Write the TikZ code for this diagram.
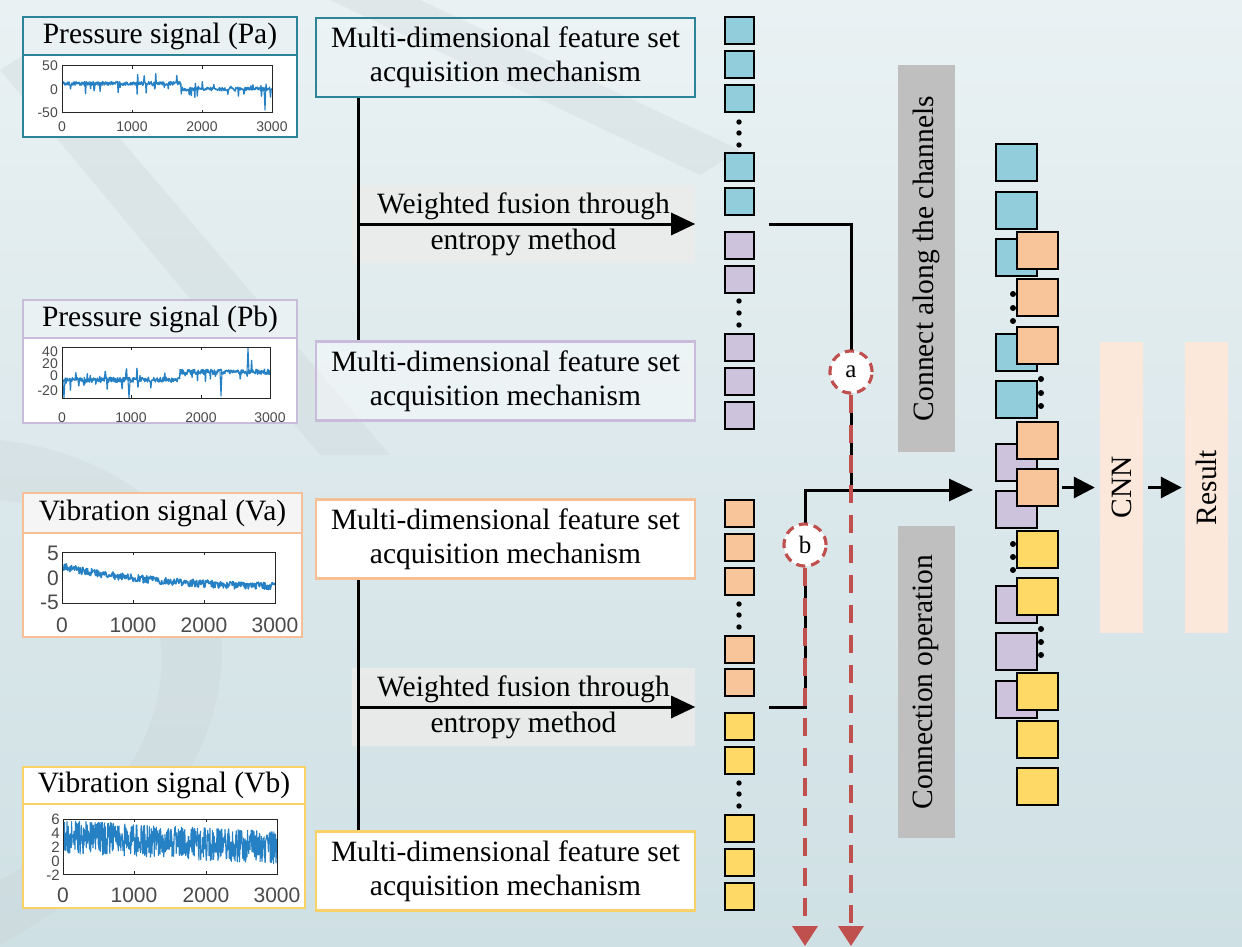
\documentclass[tikz,border=0pt]{standalone}
\usepackage{fontspec}
\setmainfont{Liberation Serif}
\newfontfamily\axisfont{Liberation Sans}
\usetikzlibrary{arrows.meta,calc}

\definecolor{bgtop}{HTML}{E9F1F3}
\definecolor{bgbot}{HTML}{CFE0E4}
\definecolor{wmgray}{HTML}{C9D2D5}
\definecolor{cteal}{HTML}{92CDDB}
\definecolor{clav}{HTML}{CEC3DC}
\definecolor{cora}{HTML}{F8C49A}
\definecolor{cyel}{HTML}{FFD966}
\definecolor{bteal}{HTML}{2E8396}
\definecolor{blav}{HTML}{C8BCDA}
\definecolor{bora}{HTML}{F6BF95}
\definecolor{byel}{HTML}{F8D168}
\definecolor{gbox}{HTML}{BFBFBF}
\definecolor{peach}{HTML}{FBE8DB}
\definecolor{redd}{HTML}{C0504D}
\definecolor{sigblue}{HTML}{2580C4}
\definecolor{ticktext}{HTML}{4A4A4A}

\newcommand\mainsz{\fontsize{29.5}{34}\selectfont}
\newcommand\cirsz{\fontsize{25}{28}\selectfont}

\begin{document}
\begin{tikzpicture}[x=1pt,y=-1pt,
  conn/.style={line width=3pt, draw=black},
  tip/.style={-{Triangle[length=24pt,width=22pt]}},
  smalltip/.style={-{Triangle[length=21pt,width=21pt]}},
  reddash/.style={line width=4pt, draw=redd, dash pattern=on 18pt off 12pt,
    -{Triangle[length=20pt,width=25pt]}},
  circ/.style={circle, fill=white, draw=redd, line width=3pt,
    dash pattern=on 9pt off 6pt, minimum size=42pt, inner sep=0pt, font=\cirsz},
  featbox/.style={draw, line width=2.5pt, minimum width=379pt, minimum height=79pt,
    align=center, font=\mainsz, inner sep=0pt},
  ttl/.style={draw, line width=2pt, font=\mainsz, inner sep=0pt},
  panel/.style={draw, line width=2pt, fill=white, inner sep=0pt},
  fusebox/.style={fill=white!92!black, fill opacity=0.9, text opacity=1,
    minimum width=343pt, minimum height=78pt, align=center, font=\mainsz, inner sep=0pt},
  sq/.style={draw=black, line width=2pt, minimum width=29pt, minimum height=27pt, inner sep=0pt},
  bsq/.style={draw=black, line width=2.2pt, minimum width=41pt, minimum height=37pt, inner sep=0pt},
  vbar/.style={rotate=90, inner sep=0pt, font=\mainsz},
  sig/.style={draw=sigblue, line width=1.1pt, line join=round},
  frame/.style={draw=black!85, line width=1pt},
  tk/.style={font=\axisfont\fontsize{14}{14}\selectfont, text=ticktext, inner sep=0pt},
  tkb/.style={font=\axisfont\fontsize{21}{21}\selectfont, text=ticktext, inner sep=0pt},
  tks/.style={font=\axisfont\fontsize{15}{15}\selectfont, text=ticktext, inner sep=0pt},
  wm/.style={fill=wmgray, fill opacity=0.3}
]
\useasboundingbox (0,0) rectangle (1242,947);
\shade[top color=bgtop, bottom color=bgbot] (0,0) rectangle (1242,947);

% faint background logo
\fill[wm] (0,70) -- (40,45) -- (390,455) -- (320,455) -- cycle;
\fill[wm] (330,0) -- (420,0) -- (740,150) -- (700,175) -- cycle;
\fill[wm] (0,440) .. controls (260,470) and (330,760) .. (0,945) -- (0,880)
  .. controls (230,760) and (200,520) .. (0,500) -- cycle;

% ---------------- signal panels ----------------
% Pa
\node[panel, draw=bteal, minimum width=274pt, minimum height=82pt] (pap) at (160,96) {};
\node[ttl, draw=bteal, fill=bgtop, minimum width=274pt, minimum height=38pt] (pat) at (160,36) {Pressure signal (Pa)};
\begin{scope}
  \clip (62,66) rectangle (272,113);
  \pgfmathsetseed{11}
  \draw[sig, line width=1.4pt] plot[domain=62:272, samples=420, variable=\t]
    (\t, {89.5 - 0.47*( ((\t<181) ? 13 : 1) + 4*rand + (rnd>0.88)*20*rand )});
  \draw[sig] (264,88) -- (265,110) -- (266,84) -- (267,90);
\end{scope}
\draw[frame] (62,66) rectangle (272,113);
\foreach \xx in {132,202} {\draw[frame] (\xx,66) -- (\xx,69); \draw[frame] (\xx,113) -- (\xx,110);}
\node[tk, anchor=east] at (58,66) {50};
\node[tk, anchor=east] at (58,90) {0};
\node[tk, anchor=east] at (58,113) {-50};
\foreach \xx/\lab in {62/0,132/1000,202/2000,272/3000} \node[tk] at (\xx,127) {\lab};

% Pb
\node[panel, draw=blav, minimum width=274pt, minimum height=85pt] (pbp) at (160,380.5) {};
\node[ttl, draw=blav, fill=bgtop, minimum width=274pt, minimum height=38pt] (pbt) at (160,319) {Pressure signal (Pb)};
\begin{scope}
  \clip (62,347) rectangle (270,398);
  \pgfmathsetseed{23}
  \draw[sig, line width=1.4pt] plot[domain=62:270, samples=420, variable=\t]
    (\t, {383.5 - 0.73*( ((\t<180) ? 5 : 16) + 3.5*rand + (rnd>0.88)*14*rand )});
  \draw[sig] (63,383) -- (64,398) -- (65,380);
  \draw[sig] (128,380) -- (129,398) -- (130,382);
  \draw[sig] (220,372) -- (221,396) -- (222,372);
  \draw[sig] (247,372) -- (248,348) -- (249,372);
\end{scope}
\draw[frame] (62,347) rectangle (270,398);
\foreach \xx in {131,201} {\draw[frame] (\xx,347) -- (\xx,350); \draw[frame] (\xx,398) -- (\xx,395);}
\node[tk, anchor=east] at (58,352) {40};
\node[tk, anchor=east] at (58,364) {20};
\node[tk, anchor=east] at (58,376) {0};
\node[tk, anchor=east] at (58,391) {-20};
\foreach \xx/\lab in {62/0,131/1000,201/2000,270/3000} \node[tk] at (\xx,418) {\lab};

% Va
\node[panel, draw=bora, minimum width=279pt, minimum height=104pt] (vap) at (162.5,585) {};
\node[ttl, draw=bora, fill=white!96!black, minimum width=279pt, minimum height=40pt] (vat) at (162.5,513) {Vibration signal (Va)};
\begin{scope}
  \clip (62,552) rectangle (275,603);
  \pgfmathsetseed{5}
  \draw[sig, line width=1.6pt] plot[domain=62:275, samples=360, variable=\t]
    (\t, {577.5 - 5.1*( 2.2 - 4.4*(1-exp(-(\t-62)/95)) + 0.75*rand )});
\end{scope}
\draw[frame] (62,552) rectangle (275,603);
\foreach \xx in {133,204} {\draw[frame] (\xx,552) -- (\xx,555); \draw[frame] (\xx,603) -- (\xx,600);}
\node[tkb, anchor=east] at (59,553) {5};
\node[tkb, anchor=east] at (59,578) {0};
\node[tkb, anchor=east] at (59,602) {-5};
\foreach \xx/\lab in {62/0,133/1000,204/2000,275/3000} \node[tkb] at (\xx,625) {\lab};

% Vb
\node[panel, draw=byel, minimum width=282pt, minimum height=104pt] (vbp) at (164,856) {};
\node[ttl, draw=byel, fill=white, minimum width=282pt, minimum height=37pt] (vbt) at (164,785.5) {Vibration signal (Vb)};
\begin{scope}
  \clip (63,819) rectangle (277,874);
  \pgfmathsetseed{17}
  \draw[sig, line width=1.1pt] plot[domain=63:277, samples=700, variable=\t]
    (\t, {860 - 6.875*( 3.4 - 1.6*(\t-63)/214 + 2.4*rand )});
\end{scope}
\draw[frame] (63,819) rectangle (277,874);
\foreach \xx in {134,206} {\draw[frame] (\xx,819) -- (\xx,822); \draw[frame] (\xx,874) -- (\xx,871);}
\node[tks, anchor=east] at (60,819) {6};
\node[tks, anchor=east] at (60,833) {4};
\node[tks, anchor=east] at (60,847) {2};
\node[tks, anchor=east] at (60,861) {0};
\node[tks, anchor=east] at (60,875) {-2};
\foreach \xx/\lab in {63/0,134/1000,206/2000,277/3000} \node[tkb] at (\xx,895) {\lab};

% ---------------- feature set boxes ----------------
\node[featbox, draw=bteal, fill=white, fill opacity=0.15, text opacity=1] (m1) at (505.5,57.5)
  {Multi-dimensional feature set\\acquisition mechanism};
\node[featbox, draw=blav, fill=white, fill opacity=0.45, text opacity=1] (m2) at (505.5,381)
  {Multi-dimensional feature set\\acquisition mechanism};
\node[featbox, draw=bora, fill=white] (m3) at (505.5,539)
  {Multi-dimensional feature set\\acquisition mechanism};
\node[featbox, draw=byel, fill=white] (m4) at (505.5,871)
  {Multi-dimensional feature set\\acquisition mechanism};

% weighted fusion (upper pair)
\node[fusebox] (f1) at (523.5,224) {Weighted fusion through\\[2pt]entropy method};
\draw[conn] ([xshift=44pt]m1.south west) -- ([xshift=44pt]m2.north west);
\draw[conn, tip] ([xshift=44pt]m1.south west |- f1.west) -- (f1.east);

% weighted fusion (lower pair)
\node[fusebox] (f2) at (523.5,707) {Weighted fusion through\\[2pt]entropy method};
\draw[conn] ([xshift=44pt]m3.south west) -- ([xshift=44pt]m4.north west);
\draw[conn, tip] ([xshift=44pt]m3.south west |- f2.west) -- (f2.east);

% ---------------- fused feature columns ----------------
\foreach \yy/\c in {31/cteal,65/cteal,99/cteal,167/cteal,201/cteal,
                    245/clav,279/clav,347/clav,381/clav,415/clav,
                    513/cora,547/cora,581/cora,649/cora,682/cora,
                    726/cyel,760/cyel,828/cyel,862/cyel,896/cyel}
  \node[sq, fill=\c] at (739,\yy) {};
\foreach \yy in {122,133,145, 301,313,325, 604,615,627, 783,794,806}
  \fill (739,\yy) circle (2.7pt);

% ---------------- connection paths ----------------
\coordinate (topout) at (769,224);
\coordinate (botout) at (769,707);
\node[circ] (ca) at (851,372) {a};
\node[circ] (cb) at (805,545) {b};
\coordinate (join) at (805,490);
\coordinate (stackin) at (973,490);
\coordinate (aend) at (851,946);
\coordinate (bend) at (805,946);

\draw[conn] (topout) -| (ca.north);
\draw[conn] (ca.south) -- (ca.south |- join);
\draw[conn] (botout) -| (cb.south);
\draw[conn, tip] (cb.north) |- (stackin);
\draw[reddash] (ca.south) -- (aend);
\draw[reddash] (cb.south) -- (bend);
\node[circ] at (ca) {a};
\node[circ] at (cb) {b};

% gray operation labels
\node[vbar, fill=gbox, minimum width=387pt, minimum height=57pt] (g1) at (926,258.5) {Connect along the channels};
\node[vbar, fill=gbox, minimum width=312pt, minimum height=57pt] (g2) at (926,682) {Connection operation};

% ---------------- concatenated stack ----------------
\foreach \yy/\c in {162.5/cteal,210.5/cteal,257.5/cteal,352.5/cteal,399.5/cteal,
                    462.5/clav,509.5/clav,604.5/clav,651.5/clav,699.5/clav}
  \node[bsq, fill=\c] at (1016.5,\yy) {};
\foreach \yy in {294,308,321, 544,557,570}
  \fill (1013,\yy) circle (3pt);
\foreach \yy/\c/\n in {250.5/cora/o1,297.5/cora/o2,345.5/cora/o3,440.5/cora/o4,487.5/cora/o5,
                    549.5/cyel/y1,596.5/cyel/y2,691.5/cyel/y3,739.5/cyel/y4,786.5/cyel/y5}
  \node[bsq, fill=\c] (\n) at (1037.5,\yy) {};
\foreach \yy in {379,393,406, 629,642,655}
  \fill (1041,\yy) circle (3pt);

% CNN and result
\node[vbar, fill=peach, minimum width=291pt, minimum height=43pt] (cnn) at (1121.5,487.5) {CNN};
\node[vbar, fill=peach, minimum width=291pt, minimum height=43pt] (res) at (1206.5,487.5) {Result};
\draw[conn, smalltip] ([xshift=3pt]o5.east) -- ([xshift=-5pt]o5.east -| cnn.north);
\draw[conn, smalltip] ([xshift=5pt]cnn.south |- o5.east) -- ([xshift=-3pt]res.north |- o5.east);
\end{tikzpicture}
\end{document}
